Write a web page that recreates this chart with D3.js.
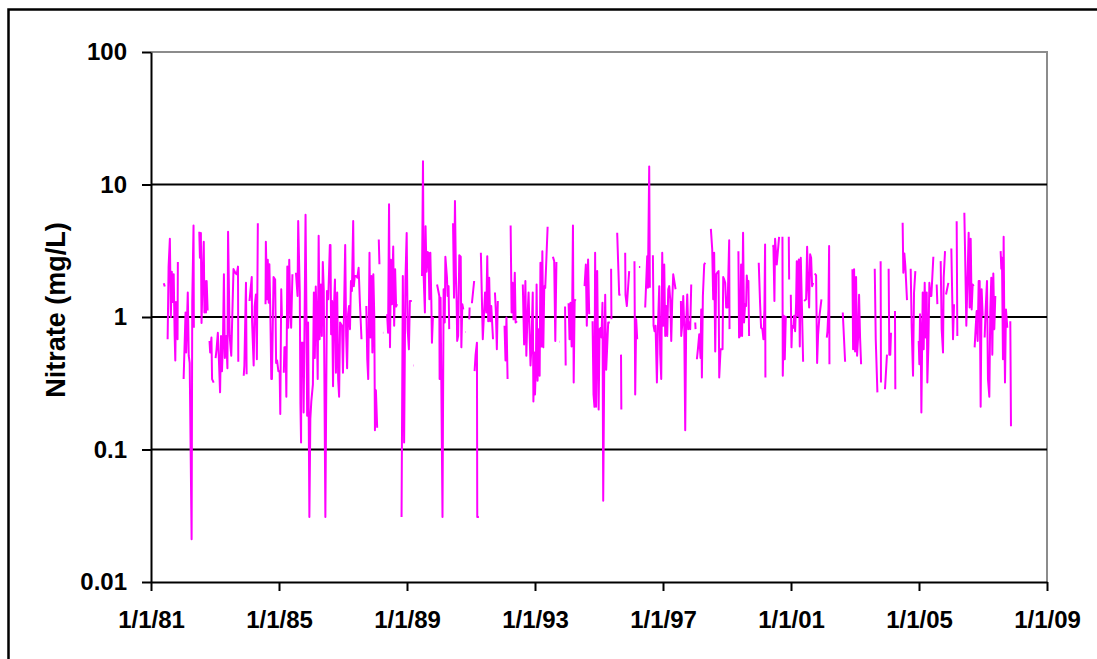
<!DOCTYPE html>
<html>
<head>
<meta charset="utf-8">
<script src="https://cdn.jsdelivr.net/npm/d3@7"></script>
<style>
  html, body { margin: 0; padding: 0; background: #fff; }
  svg { display: block; }
  text { font-family: "Liberation Sans", Arial, sans-serif; font-weight: bold; fill: #000; }
</style>
</head>
<body>
<svg id="chart" width="1097" height="659"></svg>
<script>
// Nitrate samples: [decimal year, mg/L]; null marks a break in the record.
const readings1981to1985 = [
  [1981.40,1.8],[1981.43,1.7],null,
  [1981.52,0.68],[1981.55,2.4],[1981.59,3.9],[1981.62,1.0],[1981.65,2.2],[1981.68,1.3],[1981.71,2.1],[1981.74,0.72],[1981.76,0.47],[1981.78,1.3],[1981.81,1.28],[1981.83,0.68],[1981.84,2.6],null,
  [1982.02,0.34],[1982.08,1.08],[1982.10,0.54],[1982.15,1.53],[1982.18,0.51],[1982.21,0.45],[1982.27,0.021],[1982.29,1.3],[1982.33,4.9],[1982.34,0.83],null,
  [1982.51,4.4],[1982.53,2.8],[1982.56,4.3],[1982.58,0.9],[1982.62,2.2],[1982.65,3.7],[1982.67,1.08],[1982.69,1.87],[1982.72,1.08],[1982.74,1.87],[1982.77,1.14],[1982.80,1.14],null,
  [1982.83,0.66],[1982.85,0.54],[1982.89,0.70],[1982.91,0.34],[1982.96,0.32],null,
  [1983.02,0.49],[1983.05,0.57],[1983.09,0.76],[1983.13,0.43],[1983.16,0.27],[1983.19,0.72],[1983.22,0.39],[1983.25,0.64],[1983.28,2.1],[1983.31,0.49],[1983.35,0.72],[1983.39,0.41],[1983.41,4.4],[1983.46,0.72],[1983.51,0.51],[1983.58,2.3],[1983.64,2.15],[1983.68,2.1],[1983.72,2.4],[1983.73,0.46],null,
  [1983.90,0.36],[1983.92,0.43],[1983.97,1.81],[1983.99,0.37],null,
  [1984.08,1.32],[1984.15,2.0],[1984.16,0.93],[1984.21,0.43],[1984.24,1.2],[1984.28,1.48],[1984.31,0.48],[1984.34,5.1],null,
  [1984.58,1.25],[1984.59,3.7],[1984.63,1.36],[1984.65,2.7],[1984.68,1.28],[1984.70,2.5],[1984.73,1.08],[1984.76,0.34],[1984.78,0.34],[1984.83,2.0],[1984.88,1.92],[1984.91,0.45],[1984.94,0.47],[1984.98,0.39],[1985.02,0.39],[1985.04,0.185],[1985.07,1.62],[1985.09,1.0],null,
  [1985.15,0.38],[1985.17,0.59],[1985.21,0.59],[1985.23,0.25],[1985.26,2.4],[1985.29,0.83],[1985.32,2.7],[1985.35,1.18],[1985.38,0.83],[1985.42,2.1],null
];

const readings1985to1990 = [
  [1985.53,2.16],[1985.58,1.44],[1985.60,5.3],[1985.65,1.53],[1985.67,0.22],[1985.69,0.113],[1985.70,0.64],[1985.75,0.64],[1985.77,0.19],[1985.80,0.96],[1985.83,5.9],[1985.86,0.96],[1985.88,0.18],[1985.91,0.91],[1985.93,0.17],[1985.95,0.031],[1985.98,0.17],[1986.01,0.23],[1986.06,0.31],[1986.09,1.53],[1986.12,0.49],[1986.15,1.7],[1986.18,0.93],[1986.21,0.34],[1986.24,4.1],[1986.27,0.68],[1986.31,1.76],[1986.34,0.72],[1986.37,2.6],[1986.40,1.6],[1986.45,0.031],[1986.50,1.57],[1986.54,1.36],[1986.59,3.5],[1986.61,3.5],[1986.63,0.74],[1986.66,1.32],[1986.69,0.30],[1986.72,1.21],[1986.75,1.92],[1986.78,0.38],[1986.82,1.53],[1986.85,0.34],[1986.88,0.25],[1986.91,0.91],[1986.97,0.86],[1987.00,0.38],[1987.03,0.99],[1987.07,3.5],[1987.10,0.72],[1987.13,0.41],[1987.16,1.05],[1987.19,1.21],[1987.22,0.81],[1987.25,1.87],[1987.28,1.57],[1987.32,5.3],[1987.34,1.71],[1987.37,2.04],[1987.41,2.04],[1987.45,1.98],[1987.49,2.35],[1987.53,1.28],[1987.58,0.68],null,
  [1987.73,1.21],[1987.76,0.48],[1987.79,0.34],[1987.83,3.05],[1987.86,0.70],[1987.89,2.04],[1987.92,0.54],[1987.95,2.1],[1987.98,1.0],[1988.00,0.14],[1988.03,0.28],[1988.07,0.146],null,
  [1988.12,3.85],[1988.14,2.5],null,
  [1988.25,0.76],[1988.26,0.76],null,
  [1988.38,1.05],[1988.41,0.76],[1988.44,7.1],[1988.47,0.59],[1988.50,2.7],[1988.53,1.25],[1988.57,3.4],[1988.60,0.86],[1988.63,2.29],[1988.66,1.2],[1988.69,1.25],null,
  [1988.83,0.031],[1988.87,2.04],[1988.91,0.113],[1988.95,1.87],[1988.99,4.3],[1989.02,0.81],[1989.06,0.57],[1989.09,1.32],[1989.12,1.32],[1989.15,1.32],null,
  [1989.19,0.43],[1989.20,0.43],null,
  [1989.47,2.04],[1989.50,15],[1989.52,2.04],[1989.56,1.08],[1989.58,4.85],[1989.61,2.2],[1989.64,3.1],[1989.67,3.05],[1989.70,1.36],[1989.73,3.05],[1989.76,1.36],[1989.78,0.64],[1989.81,1.0],null,
  [1989.94,1.76],[1990.01,1.44],[1990.02,0.34],[1990.05,1.4],[1990.11,0.031],[1990.145,1.62],[1990.18,0.91],[1990.20,2.85],[1990.25,1.98],[1990.27,1.44],[1990.30,1.71],[1990.32,0.81],null
];

const readings1990to1994 = [
  [1990.44,5.1],[1990.47,1.40],[1990.50,7.5],[1990.53,2.06],[1990.55,1.40],[1990.57,0.66],[1990.60,0.72],[1990.635,2.92],[1990.68,2.85],[1990.70,0.59],[1990.73,1.25],[1990.76,1.14],null,
  [1990.82,0.77],[1990.83,0.77],null,
  [1990.947,0.96],[1990.958,1.18],null,
  [1991.03,1.27],[1991.10,1.87],null,
  [1991.114,0.39],[1991.145,0.52],[1991.187,0.64],[1991.197,0.031],[1991.249,0.031],null,
  [1991.31,3.05],[1991.37,0.68],[1991.44,1.53],[1991.48,1.08],[1991.51,2.88],[1991.54,0.93],[1991.57,1.98],[1991.60,0.93],[1991.635,1.21],[1991.69,0.68],null,
  [1991.75,1.53],[1991.78,1.08],[1991.81,0.57],[1991.84,1.32],null,
  [1992.05,0.86],[1992.08,0.47],[1992.11,0.99],[1992.145,0.34],null,
  [1992.24,4.9],[1992.27,1.08],[1992.30,1.81],[1992.33,0.96],[1992.37,2.16],[1992.395,0.91],[1992.44,0.93],null,
  [1992.62,1.76],[1992.66,0.62],[1992.70,1.87],[1992.73,0.51],[1992.76,0.93],[1992.80,1.53],[1992.83,0.78],[1992.86,0.43],[1992.885,0.57],[1992.93,1.53],[1992.95,0.23],[1992.98,0.54],[1993.00,0.26],[1993.03,0.45],[1993.05,1.76],[1993.08,0.33],[1993.11,0.81],[1993.145,0.36],[1993.17,2.57],[1993.20,0.60],[1993.23,3.14],[1993.26,0.59],[1993.29,1.71],[1993.32,1.66],[1993.395,4.8],null,
  [1993.56,2.85],[1993.60,2.64],[1993.635,0.66],[1993.67,2.6],null,
  [1993.75,0.65],[1993.76,0.65],null,
  [1993.94,1.2],[1993.96,0.43],null,
  [1994.05,1.27],[1994.08,0.68],[1994.11,1.28],[1994.145,0.60],[1994.166,1.36],[1994.187,4.9],[1994.21,0.32],[1994.24,1.32],[1994.27,1.36],null
];

const readings1994to1999 = [
  [1994.55,1.71],[1994.59,2.49],[1994.62,0.86],[1994.66,2.72],[1994.695,1.05],null,
  [1994.80,0.93],[1994.83,0.26],[1994.86,0.21],[1994.88,3.05],[1994.91,0.21],[1994.945,2.22],[1994.99,0.20],[1995.02,0.81],[1995.06,0.83],[1995.08,0.70],[1995.11,1.28],[1995.133,0.041],[1995.164,0.40],[1995.195,1.47],[1995.226,0.40],[1995.258,0.60],[1995.289,0.91],[1995.32,0.91],[1995.34,0.91],null,
  [1995.38,2.31],[1995.39,0.96],null,
  [1995.57,4.32],[1995.633,1.47],[1995.674,1.47],null,
  [1995.69,0.52],[1995.70,0.20],null,
  [1995.82,3.05],[1995.83,1.47],[1995.872,1.21],[1995.945,2.22],null,
  [1996.11,2.64],[1996.133,0.26],[1996.164,0.96],[1996.195,0.68],null,
  [1996.25,2.38],[1996.29,2.38],null,
  [1996.445,1.18],[1996.508,2.88],[1996.528,1.66],[1996.57,13.7],[1996.59,1.66],null,
  [1996.685,2.92],[1996.705,0.86],[1996.737,0.78],[1996.768,0.86],[1996.81,0.32],[1996.84,0.81],[1996.883,1.71],[1996.914,0.52],[1996.945,0.34],[1996.976,3.05],[1997.008,0.86],[1997.039,2.49],[1997.07,0.72],[1997.10,1.21],[1997.133,0.72],[1997.164,1.62],[1997.195,1.71],[1997.226,1.36],[1997.258,0.66],[1997.289,1.32],[1997.32,2.10],[1997.362,1.81],[1997.393,1.62],null,
  [1997.56,1.32],[1997.57,0.72],[1997.60,0.86],[1997.633,1.44],[1997.664,0.86],[1997.695,0.14],[1997.726,0.91],[1997.758,1.48],[1997.789,0.81],[1997.82,0.91],[1997.851,0.81],[1997.883,1.76],null,
  [1998.008,0.91],[1998.018,0.81],null,
  [1998.06,0.48],[1998.091,0.57],[1998.133,0.74],[1998.174,0.49],[1998.195,1.14],[1998.216,0.35],[1998.247,1.44],[1998.289,2.49],[1998.32,2.57],null,
  [1998.497,4.63],[1998.539,3.24],[1998.57,1.36],[1998.60,3.05],[1998.633,0.55],[1998.664,2.10],[1998.695,2.16],[1998.737,2.22],[1998.758,0.35],[1998.80,0.57],[1998.862,0.57],[1998.883,2.0],[1998.914,1.92],[1998.945,1.81],[1998.976,1.18],[1999.018,1.18],[1999.07,3.8],[1999.08,0.81],null
];

const readings1999to2003 = [
  [1999.358,3.14],[1999.379,0.70],[1999.41,0.72],[1999.442,2.49],[1999.473,0.72],[1999.504,4.32],[1999.535,0.91],[1999.567,1.25],[1999.598,1.21],[1999.619,2.06],[1999.65,1.71],[1999.671,1.87],[1999.692,0.72],null,
  [1999.994,2.57],[2000.035,1.28],[2000.067,0.83],[2000.108,0.81],[2000.14,0.68],[2000.171,1.14],[2000.192,3.53],[2000.202,0.35],null,
  [2000.421,3.47],[2000.452,3.43],[2000.483,1.32],[2000.504,3.89],[2000.556,2.49],[2000.629,4.03],null,
  [2000.733,4.03],[2000.744,0.36],[2000.775,1.02],[2000.806,0.48],[2000.838,1.02],null,
  [2000.931,4.03],[2000.942,1.92],null,
  [2000.994,1.47],[2001.015,0.59],[2001.035,0.86],[2001.077,0.83],[2001.098,1.02],[2001.129,0.78],[2001.16,1.28],[2001.181,2.64],[2001.213,1.02],[2001.244,2.72],[2001.275,0.60],[2001.306,2.80],[2001.348,1.02],[2001.379,0.46],null,
  [2001.41,1.32],[2001.473,1.36],[2001.504,3.39],[2001.535,1.71],[2001.567,1.18],[2001.598,2.97],[2001.629,2.80],[2001.66,1.71],[2001.692,1.81],null,
  [2001.744,2.13],[2001.785,2.06],[2001.817,0.45],[2001.848,0.74],[2001.89,1.02],[2001.952,1.36],null,
  [2002.119,0.70],[2002.14,0.78],[2002.171,1.14],[2002.192,3.43],[2002.202,0.44],null,
  [2002.619,1.08],[2002.692,0.46],null,
  [2002.921,2.29],[2002.942,0.57],[2002.973,2.29],[2003.004,0.55],[2003.035,2.0],[2003.067,0.51],[2003.098,0.70],[2003.129,1.47],[2003.16,0.70],[2003.192,0.44],null,
  [2003.619,2.31],[2003.65,0.68],[2003.702,0.27],null
];

const readings2003to2008 = [
  [2003.803,2.64],[2003.814,0.32],null,
  [2003.939,0.285],[2004.001,0.52],null,
  [2004.053,2.31],[2004.074,0.52],[2004.105,0.52],[2004.126,0.76],null,
  [2004.251,1.11],[2004.262,0.285],null,
  [2004.49,5.14],[2004.511,2.16],[2004.543,3.02],[2004.574,2.42],[2004.626,1.34],null,
  [2004.741,2.31],[2004.772,0.83],[2004.814,0.36],[2004.845,1.53],[2004.886,2.22],null,
  [2004.991,0.66],[2005.011,0.44],[2005.032,1.05],[2005.053,0.78],[2005.074,0.19],[2005.116,1.53],[2005.147,0.57],[2005.178,1.81],[2005.209,0.70],[2005.241,1.53],[2005.261,0.32],[2005.293,0.60],[2005.324,1.81],[2005.355,1.44],[2005.386,1.44],[2005.449,2.85],null,
  [2005.553,1.76],[2005.574,1.25],null,
  [2005.678,2.64],[2005.709,0.81],[2005.751,0.54],[2005.772,1.98],[2005.814,3.14],null,
  [2005.845,1.48],[2005.918,1.81],null,
  [2006.011,3.29],[2006.064,0.68],[2006.095,1.25],null,
  [2006.178,5.29],[2006.199,0.72],null,
  [2006.418,6.11],[2006.449,2.42],[2006.48,0.86],[2006.511,1.71],[2006.553,4.32],[2006.584,1.18],[2006.616,3.89],[2006.647,1.14],[2006.678,1.76],[2006.709,1.71],null,
  [2006.74,0.59],[2006.772,0.83],[2006.803,1.11],[2006.834,0.66],[2006.866,1.87],[2006.897,1.87],[2006.928,0.21],[2006.959,1.62],[2006.991,1.02],null,
  [2007.053,0.70],[2007.084,1.14],[2007.126,1.87],[2007.157,0.34],[2007.199,0.25],[2007.23,1.14],[2007.261,1.98],[2007.293,0.52],[2007.324,2.13],[2007.355,0.81],[2007.386,1.44],null,
  [2007.553,3.14],[2007.574,2.31],[2007.595,2.80],[2007.626,0.48],[2007.647,4.03],[2007.668,0.83],[2007.689,0.32],[2007.72,1.14],[2007.761,0.83],null,
  [2007.855,0.93],[2007.876,0.15]
];

// Axis ticks
const yTickValues = [0.01, 0.1, 1, 10, 100];
const yTickLabels = ["0.01", "0.1", "1", "10", "100"];
const yGridValues = [0.1, 1, 10];
const xTickYears = [1981, 1985, 1989, 1993, 1997, 2001, 2005, 2009];
const yAxisTitle = "Nitrate (mg/L)";

// Convert a decimal year to a Date
function yearToDate(y) {
  const yr = Math.floor(y);
  const start = new Date(yr, 0, 1), end = new Date(yr + 1, 0, 1);
  return new Date(+start + (y - yr) * (end - start));
}

const readings = [].concat(
  readings1981to1985, readings1985to1990, readings1990to1994,
  readings1994to1999, readings1999to2003, readings2003to2008
);

const plot = { left: 151, right: 1047, top: 52, bottom: 582 };

const x = d3.scaleTime()
  .domain([new Date(1981, 0, 1), new Date(2009, 0, 1)])
  .range([plot.left, plot.right]);

const y = d3.scaleLog()
  .domain([0.01, 100])
  .range([plot.bottom, plot.top]);

const svg = d3.select("#chart");

svg.append("rect").attr("width", 1097).attr("height", 659).attr("fill", "#fff");

// Outer chart frame (runs past the right and bottom edges)
svg.append("path")
  .attr("d", "M8.5,659 V9.5 H1097")
  .attr("fill", "none").attr("stroke", "#000").attr("stroke-width", 2.5);

// Plot-area border: grey on top and right
svg.append("path")
  .attr("d", `M${plot.left},${plot.top} H${plot.right} V${plot.bottom}`)
  .attr("fill", "none").attr("stroke", "#8c8c8c").attr("stroke-width", 2);

// Major gridlines
svg.append("g").selectAll("line")
  .data(yGridValues)
  .join("line")
  .attr("x1", plot.left).attr("x2", plot.right)
  .attr("y1", d => y(d)).attr("y2", d => y(d))
  .attr("stroke", "#000").attr("stroke-width", 2);

// Nitrate series
const line = d3.line()
  .defined(d => d !== null)
  .x(d => x(yearToDate(d[0])))
  .y(d => y(d[1]));

svg.append("path")
  .datum(readings)
  .attr("d", line)
  .attr("fill", "none")
  .attr("stroke", "#ff00ff")
  .attr("stroke-width", 2)
  .attr("stroke-linejoin", "round");

// Y axis
const yAxis = svg.append("g")
  .attr("transform", `translate(${plot.left},0)`)
  .call(d3.axisLeft(y)
    .tickValues(yTickValues)
    .tickFormat((d, i) => yTickLabels[i])
    .tickSize(9).tickSizeOuter(0).tickPadding(15));

// X axis
const xAxis = svg.append("g")
  .attr("transform", `translate(0,${plot.bottom})`)
  .call(d3.axisBottom(x)
    .tickValues(xTickYears.map(yr => new Date(yr, 0, 1)))
    .tickFormat(d3.timeFormat("%-m/%-d/%y"))
    .tickSize(9).tickSizeOuter(0).tickPadding(20));

[yAxis, xAxis].forEach(g => {
  g.select(".domain").attr("stroke", "#000").attr("stroke-width", 2);
  g.selectAll(".tick line").attr("stroke", "#000").attr("stroke-width", 2);
  g.selectAll(".tick text")
    .attr("fill", "#000")
    .style("font-family", '"Liberation Sans", Arial, sans-serif')
    .style("font-weight", "bold")
    .style("font-size", "24px");
});

// Y axis title
svg.append("text")
  .attr("transform", "translate(65,310) rotate(-90)")
  .attr("text-anchor", "middle")
  .style("font-size", "27px")
  .text(yAxisTitle);
</script>
</body>
</html>
